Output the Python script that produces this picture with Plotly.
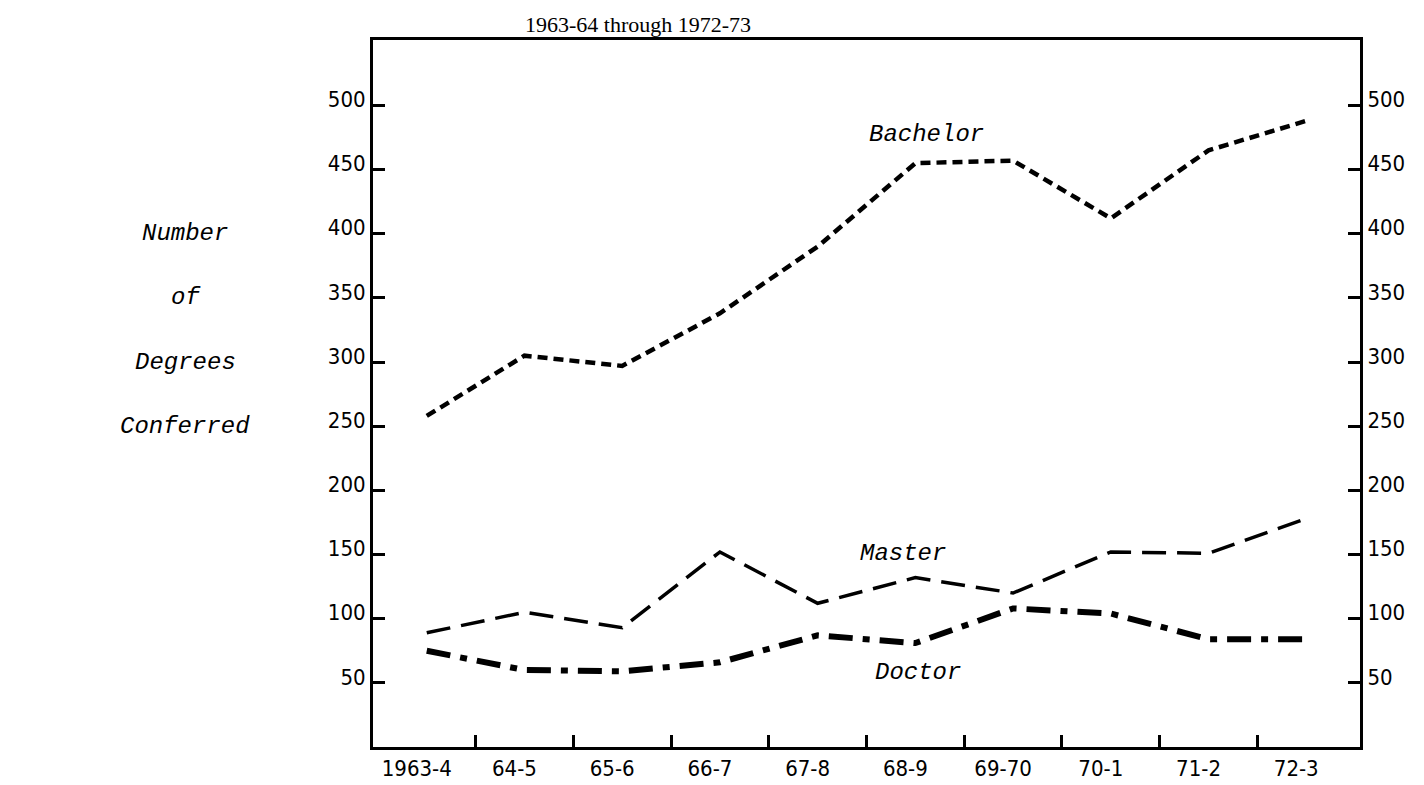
import plotly.graph_objects as go

# ------------------ data ------------------
years = ["1963-4", "64-5", "65-6", "66-7", "67-8", "68-9", "69-70", "70-1", "71-2", "72-3"]
bachelor = [258, 305, 297, 338, 390, 455, 457, 412, 465, 488]
master = [89, 105, 93, 152, 112, 132, 120, 152, 151, 178]
doctor = [75, 60, 59, 66, 87, 81, 108, 104, 84, 84]
y_ticks = [50, 100, 150, 200, 250, 300, 350, 400, 450, 500]
side_label = ["Number", "of", "Degrees", "Conferred"]

x = list(range(len(years)))
boundaries = [i + 0.5 for i in range(len(years) - 1)]

tick_font = dict(family="Liberation Sans Narrow, DejaVu Sans Condensed, sans-serif", size=22, color="black")
title_font = dict(family="Liberation Serif, DejaVu Serif, serif", size=22, color="black")
ital_font = dict(family="Liberation Mono, DejaVu Sans Mono, monospace", size=24, color="black", style="italic")

fig = go.Figure()
fig.add_trace(go.Scatter(x=x, y=bachelor, mode="lines", yaxis="y2",
                         line=dict(color="black", width=4.5, dash="10px,6px")))
fig.add_trace(go.Scatter(x=x, y=master, mode="lines",
                         line=dict(color="black", width=3.5, dash="24px,11px")))
fig.add_trace(go.Scatter(x=x, y=doctor, mode="lines",
                         line=dict(color="black", width=6, dash="24px,10px,7px,10px")))

axis_line = dict(showline=True, linecolor="black", linewidth=3, showgrid=False, zeroline=False)

fig.update_layout(
    width=1424, height=785,
    margin=dict(l=365, r=72, t=32, b=40),
    paper_bgcolor="white", plot_bgcolor="white",
    showlegend=False,
    xaxis=dict(range=[-0.55, 9.55], tickvals=x, ticktext=years, ticks="",
               tickfont=tick_font, mirror=True, ticklabelshift=-10,
               minor=dict(tickmode="array", tickvals=boundaries, ticks="inside",
                          ticklen=12, tickwidth=2.5, tickcolor="black"),
               **axis_line),
    yaxis=dict(range=[0, 551], tickvals=y_ticks, ticks="inside", ticklen=12,
               tickwidth=2.5, tickcolor="black", tickfont=tick_font, mirror=True,
               ticklabelstandoff=0, ticklabelshift=-6, **axis_line),
    yaxis2=dict(range=[0, 551], tickvals=y_ticks, ticks="inside", ticklen=12,
                tickwidth=2.5, tickcolor="black", tickfont=tick_font,
                overlaying="y", side="right", ticklabelstandoff=0, ticklabelshift=-6,
                **axis_line),
)

fig.add_annotation(text="1963-64 through 1972-73", xref="paper", yref="paper",
                   x=0.268, xanchor="center", y=1.0, yanchor="bottom", yshift=1,
                   showarrow=False, font=title_font)

for name, xi, yv in [("Bachelor", 5.11, 477), ("Master", 4.87, 151), ("Doctor", 5.03, 58)]:
    fig.add_annotation(text=name, x=xi, y=yv, showarrow=False, font=ital_font)

for i, word in enumerate(side_label):
    fig.add_annotation(text=word, xref="paper", yref="y", x=-0.19, xanchor="center",
                       y=400 - i * 50, showarrow=False, font=ital_font)

fig.write_html("out.html")
